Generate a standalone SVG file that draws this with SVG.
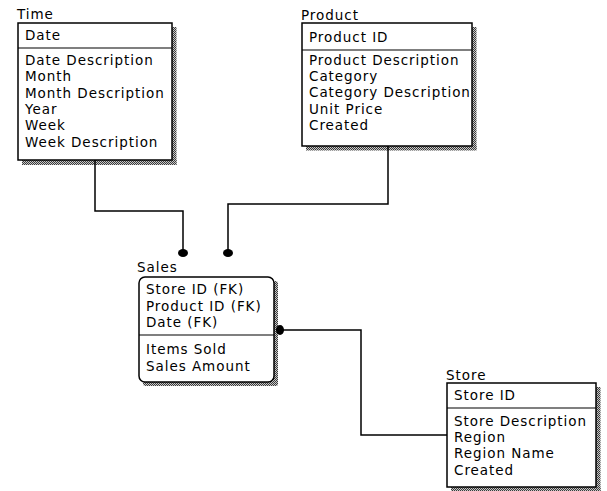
<svg xmlns="http://www.w3.org/2000/svg" width="607" height="491" viewBox="0 0 607 491">
  <defs>
    <pattern id="hatch" width="2" height="2" patternUnits="userSpaceOnUse">
      <rect width="2" height="2" fill="#c8c8c8"/>
      <rect width="1" height="1" fill="#3a3a3a"/>
      <rect x="1" y="1" width="1" height="1" fill="#3a3a3a"/>
    </pattern>
    <style>
      text { font-family: "DejaVu Sans", "Liberation Sans", sans-serif; font-size: 13.5px; letter-spacing: 0.95px; fill: #000; }
      .box { fill: #fff; stroke: #000; stroke-width: 1.5; }
      .div { stroke: #000; stroke-width: 1.2; }
      .shadow { fill: url(#hatch); }
      .conn { fill: none; stroke: #000; stroke-width: 1.5; }
      .dot { fill: #000; }
    </style>
  </defs>
  <rect width="607" height="491" fill="#fff"/>

  <!-- Time entity -->
  <g id="time">
    <text x="17" y="19">Time</text>
    <rect class="shadow" x="172" y="27" width="4.5" height="138"/>
    <rect class="shadow" x="22" y="160" width="154.5" height="5"/>
    <rect class="box" x="18" y="23" width="154" height="137"/>
    <line class="div" x1="18" y1="48" x2="172" y2="48"/>
    <text x="25" y="40">Date</text>
    <text x="25" y="65">Date Description</text>
    <text x="25" y="81">Month</text>
    <text x="25" y="98">Month Description</text>
    <text x="25" y="114">Year</text>
    <text x="25" y="130">Week</text>
    <text x="25" y="147">Week Description</text>
  </g>

  <!-- Product entity -->
  <g id="product">
    <text x="301" y="20">Product</text>
    <rect class="shadow" x="472" y="27" width="4.5" height="123"/>
    <rect class="shadow" x="306" y="146" width="170.5" height="4.5"/>
    <rect class="box" x="302" y="23" width="170" height="123"/>
    <line class="div" x1="302" y1="50" x2="472" y2="50"/>
    <text x="309" y="42">Product ID</text>
    <text x="309" y="65">Product Description</text>
    <text x="309" y="81">Category</text>
    <text x="309" y="97">Category Description</text>
    <text x="309" y="114">Unit Price</text>
    <text x="309" y="130">Created</text>
  </g>

  <!-- Sales entity -->
  <g id="sales">
    <text x="137" y="272">Sales</text>
    <rect class="shadow" x="273" y="281" width="5" height="105" rx="3"/>
    <rect class="shadow" x="143" y="381" width="135" height="5" rx="3"/>
    <rect class="box" x="139" y="277" width="135" height="105" rx="6"/>
    <line class="div" x1="139" y1="335" x2="274" y2="335"/>
    <text x="146" y="294">Store ID (FK)</text>
    <text x="146" y="311">Product ID (FK)</text>
    <text x="146" y="327">Date (FK)</text>
    <text x="146" y="354">Items Sold</text>
    <text x="146" y="371">Sales Amount</text>
  </g>

  <!-- Store entity -->
  <g id="store">
    <text x="446" y="380">Store</text>
    <rect class="shadow" x="596" y="387" width="4.5" height="104"/>
    <rect class="shadow" x="451" y="487" width="149.5" height="4"/>
    <rect class="box" x="447" y="383" width="149" height="104"/>
    <line class="div" x1="447" y1="408" x2="596" y2="408"/>
    <text x="454" y="400">Store ID</text>
    <text x="454" y="426">Store Description</text>
    <text x="454" y="442">Region</text>
    <text x="454" y="458">Region Name</text>
    <text x="454" y="475">Created</text>
  </g>

  <!-- Relationships -->
  <g id="connectors">
    <polyline class="conn" points="95,160 95,211 183,211 183,253"/>
    <ellipse class="dot" cx="183" cy="253" rx="5" ry="4"/>
    <polyline class="conn" points="388,146 388,204 228,204 228,253"/>
    <ellipse class="dot" cx="228" cy="253" rx="5" ry="4"/>
    <polyline class="conn" points="280,330 361,330 361,435 447,435"/>
    <ellipse class="dot" cx="280" cy="330" rx="4" ry="5"/>
  </g>
</svg>
